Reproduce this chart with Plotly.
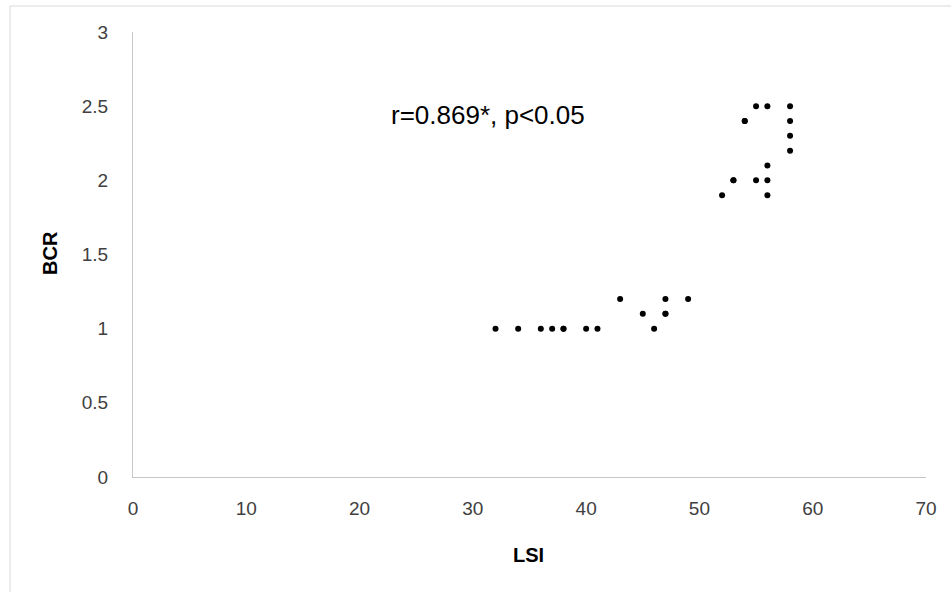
import plotly.graph_objects as go

# Data
lsi = [32, 34, 36, 37, 38, 38, 40, 41, 46,
       45, 47, 47,
       43, 47, 49,
       52, 56,
       53, 53, 55, 56,
       56,
       58, 58,
       54, 54, 58,
       55, 56, 58]
bcr = [1.0, 1.0, 1.0, 1.0, 1.0, 1.0, 1.0, 1.0, 1.0,
       1.1, 1.1, 1.1,
       1.2, 1.2, 1.2,
       1.9, 1.9,
       2.0, 2.0, 2.0, 2.0,
       2.1,
       2.2, 2.3,
       2.4, 2.4, 2.4,
       2.5, 2.5, 2.5]

x_ticks = [0, 10, 20, 30, 40, 50, 60, 70]
y_ticks = [0, 0.5, 1, 1.5, 2, 2.5, 3]
y_tick_labels = ["0", "0.5", "1", "1.5", "2", "2.5", "3"]

FONT = "Arial, 'Liberation Sans', sans-serif"

fig = go.Figure()
fig.add_trace(go.Scatter(
    x=lsi, y=bcr, mode="markers",
    marker=dict(color="black", size=6, line=dict(width=0)),
    showlegend=False,
))

L, R, T, B = 133, 25, 32, 115
W, H = 951, 592
pw, ph = W - L - R, H - T - B

def px(xp):
    return (xp - L) / pw

def py(yp):
    return (H - B - yp) / ph

fig.update_layout(
    width=W, height=H,
    margin=dict(l=L, r=R, t=T, b=B, pad=0),
    paper_bgcolor="white", plot_bgcolor="white",
    font=dict(family=FONT, color="#404040", size=19),
    xaxis=dict(
        range=[0, 70], tickvals=x_ticks, ticktext=[str(v) for v in x_ticks],
        showgrid=False, zeroline=False, showline=True, linecolor="#c8c8c8", linewidth=1,
        ticks="", ticklabelstandoff=14,
        tickfont=dict(family=FONT, size=19, color="#404040"),
    ),
    yaxis=dict(
        range=[0, 3], tickvals=y_ticks, ticktext=y_tick_labels,
        showgrid=False, zeroline=False, showline=True, linecolor="#c8c8c8", linewidth=1,
        ticks="", ticklabelstandoff=20,
        tickfont=dict(family=FONT, size=19, color="#404040"),
    ),
    annotations=[
        dict(text="r=0.869*, p<0.05", x=22.6, y=2.44, xref="x", yref="y",
             xanchor="left", yanchor="middle", showarrow=False,
             font=dict(family=FONT, size=26, color="black")),
        dict(text="<b>LSI</b>", x=px(528), y=py(555), xref="paper", yref="paper",
             xanchor="center", yanchor="middle", showarrow=False,
             font=dict(family=FONT, size=20, color="black")),
        dict(text="<b>BCR</b>", x=px(50), y=py(253), xref="paper", yref="paper",
             xanchor="center", yanchor="middle", showarrow=False, textangle=-90,
             font=dict(family=FONT, size=20, color="black")),
    ],
    shapes=[
        dict(type="rect", xref="paper", yref="paper",
             x0=px(10), x1=px(W + 20), y0=py(H + 20), y1=py(6),
             line=dict(color="#d9d9d9", width=1), fillcolor="rgba(0,0,0,0)", layer="below"),
    ],
)

fig.write_html(
    "out.html",
    config={"displayModeBar": False},
    post_script="document.body.style.margin='0';document.body.style.overflow='hidden';",
)
